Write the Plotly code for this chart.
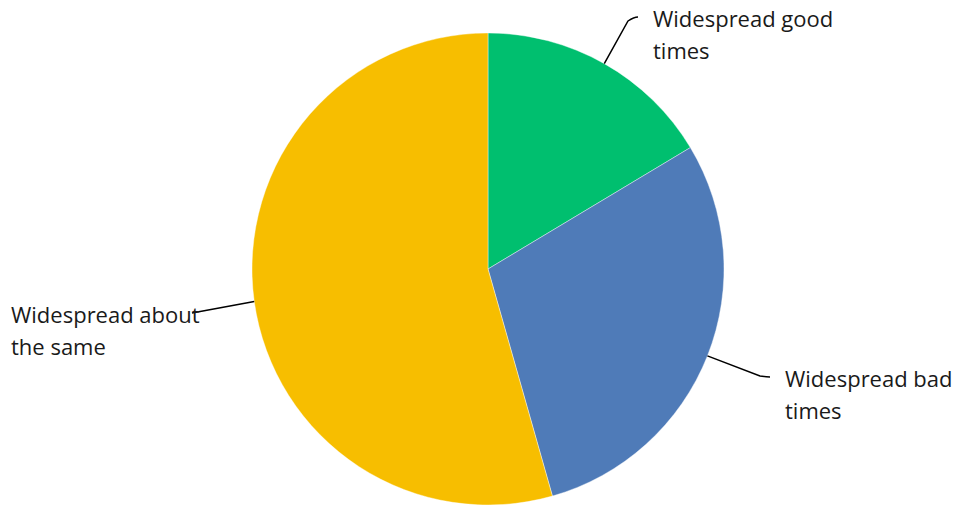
import math
import plotly.graph_objects as go

# Survey outcome shares (percent)
labels = ["Widespread good times", "Widespread bad times", "Widespread about the same"]
values = [16.4, 29.2, 54.4]
colors = ["#00BF6F", "#4F7BB8", "#F7BE00"]

# Display text, split over two lines, with where each block of text sits (px)
label_lines = [["Widespread good", "times"],
               ["Widespread bad", "times"],
               ["Widespread about", "the same"]]
label_pos = [(651, 18), (783, 378), (9, 314)]
line_gap = 32
# Leader line end points (px) beside each label, and whether it hooks into a short run
leader_end = [(638, 17), (770, 377), (192, 313)]
leader_hook = [True, True, False]

W, H = 959, 508
cx, cy, r = 488, 269, 236


def px(x, y):
    return x / W, 1 - y / H


fig = go.Figure(go.Pie(
    labels=labels,
    values=values,
    marker=dict(colors=colors, line=dict(color="#FFFFFF", width=0.4)),
    sort=False,
    direction="clockwise",
    rotation=0,
    textinfo="none",
    hoverinfo="label+percent",
    showlegend=False,
    domain=dict(x=[(cx - r) / W, (cx + r) / W], y=[1 - (cy + r) / H, 1 - (cy - r) / H]),
))

annotations = []
shapes = []
total = sum(values)
cum = 0.0
for i, v in enumerate(values):
    mid = (cum + v / 2) / total * 2 * math.pi
    cum += v
    sx = cx + r * math.sin(mid)
    sy = cy - r * math.cos(mid)
    ex, ey = leader_end[i]
    p0 = px(sx, sy)
    p2 = px(ex, ey)
    if leader_hook[i]:
        bx, by = ex - 10, ey + (4 if ey < sy else -1)
        p1 = px(bx, by)
        q = px(ex - 4, ey)
        path = f"M {p0[0]},{p0[1]} L {p1[0]},{p1[1]} Q {q[0]},{q[1]} {p2[0]},{p2[1]}"
    else:
        path = f"M {p0[0]},{p0[1]} L {p2[0]},{p2[1]}"
    shapes.append(dict(
        type="path", xref="paper", yref="paper", path=path,
        line=dict(color="#000000", width=1.5),
    ))
    lx, ly = label_pos[i]
    for j, t in enumerate(label_lines[i]):
        ax, ay = px(lx, ly + j * line_gap)
        annotations.append(dict(
            x=ax, y=ay, xref="paper", yref="paper", text=t, showarrow=False,
            xanchor="left", yanchor="middle",
            font=dict(family="Open Sans", size=22, color="#1A1A1A"),
        ))

fig.update_layout(
    width=W, height=H,
    margin=dict(l=0, r=0, t=0, b=0),
    paper_bgcolor="#FFFFFF",
    plot_bgcolor="#FFFFFF",
    annotations=annotations,
    shapes=shapes,
)

fig.write_html("out.html")
